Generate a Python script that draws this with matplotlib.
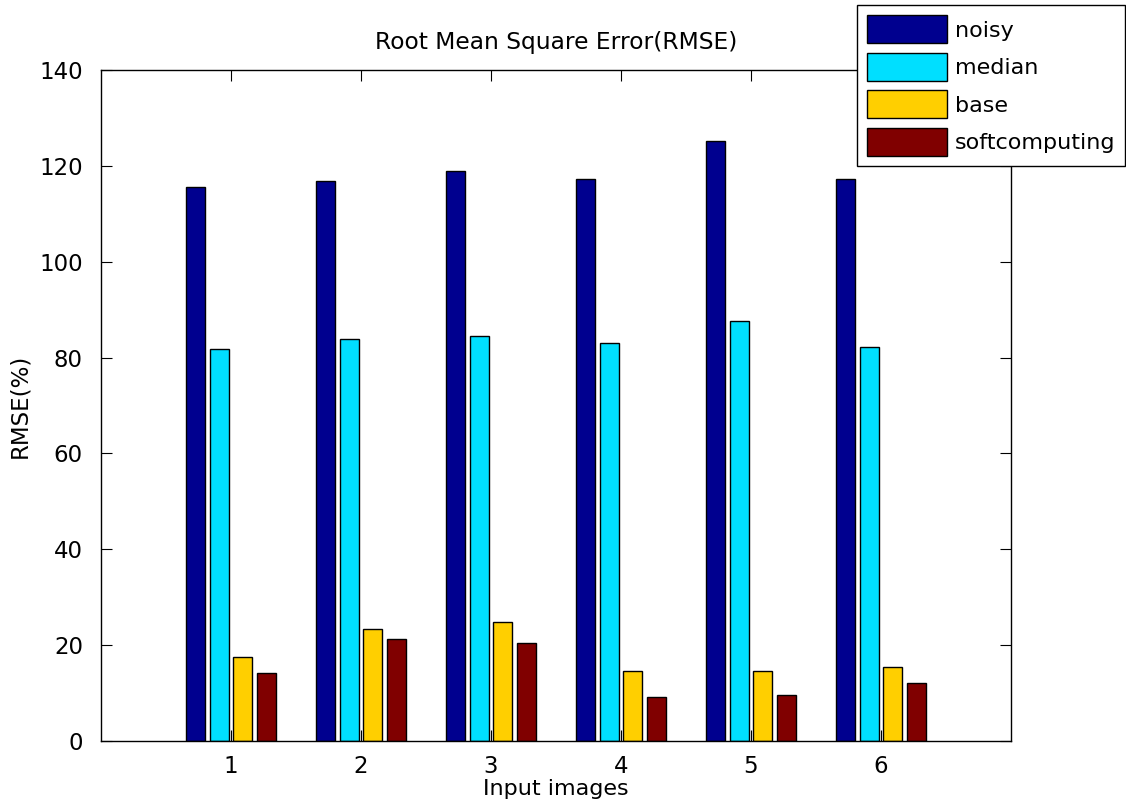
import matplotlib
matplotlib.use('Agg')
import matplotlib.pyplot as plt
import numpy as np

# RMSE values per input image
images = [1, 2, 3, 4, 5, 6]
noisy = [115.6, 116.8, 118.9, 117.3, 125.2, 117.3]
median = [81.8, 83.9, 84.4, 83.1, 87.6, 82.3]
base = [17.5, 23.3, 24.9, 14.6, 14.6, 15.4]
softcomputing = [14.1, 21.2, 20.4, 9.2, 9.6, 12.1]

series = [noisy, median, base, softcomputing]
names = ['noisy', 'median', 'base', 'softcomputing']
colors = ['#00008F', '#00DFFF', '#FFCF00', '#800000']

plt.rcParams['font.family'] = 'DejaVu Sans'
fig = plt.figure(figsize=(11.26, 8.11), dpi=100)
ax = fig.add_axes([101/1126, 1-741/811, 910/1126, 671/811])

x = np.array(images)
step = 0.727/4
for i in range(4):
    ax.bar(x + (i-1.5)*step, series[i], width=step*0.8, color=colors[i],
           edgecolor='black', linewidth=1, label=names[i])

ax.set_xlim(0, 7)
ax.set_ylim(0, 140)
ax.set_xticks(images)
ax.set_yticks(range(0, 141, 20))
ax.tick_params(direction='in', length=8, top=True, right=True, labelsize=16.5)
ax.tick_params(axis='x', pad=10)
ax.tick_params(axis='y', pad=13)
for s in ax.spines.values():
    s.set_linewidth(1)

ax.set_title('Root Mean Square Error(RMSE)', fontsize=16.8, pad=15)
ax.set_xlabel('Input images', fontsize=16, labelpad=1)
ax.set_ylabel('RMSE(%)', fontsize=16.5, labelpad=6)

leg = ax.legend(loc='lower left', bbox_to_anchor=(857/1126, 1-166/811),
                bbox_transform=fig.transFigure, borderaxespad=0, fontsize=16,
                fancybox=False, framealpha=1, edgecolor='black',
                handlelength=3.6, handleheight=1.56, labelspacing=0.43,
                handletextpad=0.35, borderpad=0.45)
leg.get_frame().set_linewidth(1)

fig.savefig('out.png', dpi=100)
